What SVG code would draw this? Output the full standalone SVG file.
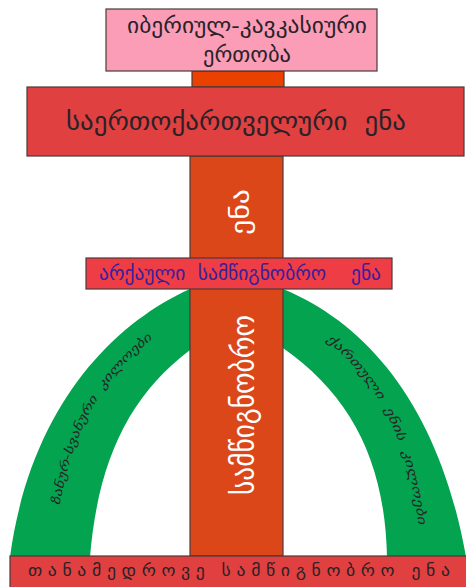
<svg xmlns="http://www.w3.org/2000/svg" width="466" height="587" viewBox="0 0 466 587" xml:space="preserve">
<style>
.box{stroke:#4a3a3a;stroke-width:1.2}
.t{font-family:"DejaVu Sans","Noto Sans",sans-serif;text-anchor:middle;white-space:pre}
.dark{fill:#2a2228}
.white{fill:#ffffff}
.indigo{fill:#3a1f9a}
.arc{fill:#03a34f}
</style>
<rect width="466" height="587" fill="#ffffff"/>
<g id="arcs">
<path class="arc" d="M190,289 C110,325 30,410 10,557 L90,557 C98,460 130,395 190,350 Z"/>
<path class="arc" d="M283,289 C370,325 440,410 466,557 L387,557 C385,460 350,395 283,348 Z"/>
<path id="lp" d="M58,515 C72,430 100,378 160,333" fill="none"/>
<path id="rp" d="M318,334 C380,380 408,440 420,535" fill="none"/>
<text class="t dark" font-size="12" font-style="italic"><textPath href="#lp" startOffset="50%" textLength="196" lengthAdjust="spacingAndGlyphs">ზანურ-სვანური  კილოები</textPath></text>
<text class="t dark" font-size="12" font-style="italic"><textPath href="#rp" startOffset="50%" textLength="212" lengthAdjust="spacingAndGlyphs">ქართული  ენის  კილოები</textPath></text>
</g>
<g id="column">
<rect class="box" x="190" y="156" width="93" height="400" fill="#dc471a"/>
<text class="t white" font-size="26" transform="translate(249,212) rotate(-90)" textLength="46" lengthAdjust="spacingAndGlyphs">ენა</text>
<text class="t white" font-size="30" transform="translate(254,405) rotate(-90)" textLength="180" lengthAdjust="spacingAndGlyphs">სამწიგნობრო</text>
</g>
<g id="connector-top">
<rect class="box" x="192" y="71" width="92" height="16" fill="#ea4000"/>
</g>
<g id="iberian">
<rect class="box" x="106" y="9" width="271" height="62" fill="#fb9db7"/>
<text class="t dark" font-size="21" x="247" y="33" textLength="240" lengthAdjust="spacingAndGlyphs">იბერიულ-კავკასიური</text>
<text class="t dark" font-size="21" x="247" y="62" textLength="88" lengthAdjust="spacingAndGlyphs">ერთობა</text>
</g>
<g id="protokartvelian">
<rect class="box" x="27" y="87" width="437" height="69" fill="#e04040"/>
<text class="t dark" font-size="25" x="236" y="130" textLength="340" lengthAdjust="spacingAndGlyphs">საერთოქართველური  ენა</text>
</g>
<g id="archaic">
<rect class="box" x="86" y="258" width="306" height="31" fill="#ef3d46"/>
<text class="t indigo" font-size="19" x="240" y="280" textLength="282" lengthAdjust="spacingAndGlyphs">არქაული  სამწიგნობრო    ენა</text>
</g>
<g id="modern">
<rect class="box" x="10" y="556" width="460" height="34" fill="#e04040"/>
<text class="t dark" font-size="17" x="239" y="576" textLength="422" lengthAdjust="spacingAndGlyphs">თ ა ნ ა მ ე დ რ ო ვ ე   ს ა მ წ ი გ ნ ო ბ რ ო   ე ნ ა</text>
</g>
</svg>
